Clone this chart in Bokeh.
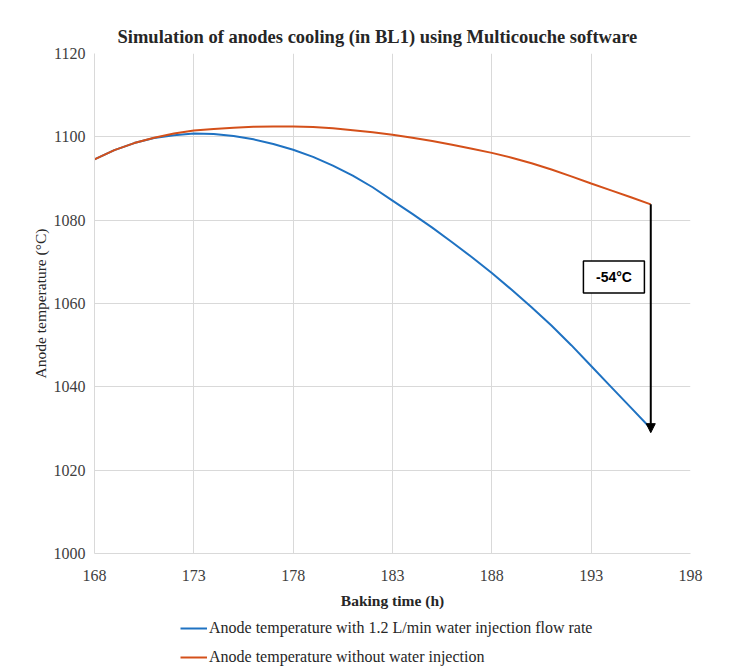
from bokeh.plotting import figure
from bokeh.layouts import column
from bokeh.models import (Legend, LegendItem, Arrow, NormalHead, Label,
                          BoxAnnotation, FixedTicker, Range1d)
from bokeh.embed import file_html
from bokeh.resources import INLINE

# ---------------- data ----------------
hours = [168, 169, 170, 171, 172, 173, 174, 175, 176, 177, 178, 179, 180, 181,
         182, 183, 184, 185, 186, 187, 188, 189, 190, 191, 192, 193, 194, 195, 196]
temp_with_water = [1094.6, 1096.8, 1098.5, 1099.7, 1100.4, 1100.8, 1100.7, 1100.2,
                   1099.4, 1098.3, 1096.9, 1095.2, 1093.1, 1090.7, 1087.9, 1084.7,
                   1081.5, 1078.2, 1074.7, 1071.1, 1067.3, 1063.3, 1059.1, 1054.7,
                   1050.0, 1045.0, 1040.0, 1035.0, 1030.0]
temp_without_water = [1094.6, 1096.8, 1098.5, 1099.8, 1100.8, 1101.5, 1101.9, 1102.2,
                      1102.4, 1102.5, 1102.5, 1102.35, 1102.05, 1101.6, 1101.1, 1100.5,
                      1099.8, 1099.0, 1098.1, 1097.15, 1096.15, 1095.0, 1093.65, 1092.15,
                      1090.5, 1088.8, 1087.15, 1085.5, 1083.8]
x_ticks = [168, 173, 178, 183, 188, 193, 198]
y_ticks = [1000, 1020, 1040, 1060, 1080, 1100, 1120]
label_with = "Anode temperature with 1.2 L/min water injection flow rate"
label_without = "Anode temperature without water injection"
title_text = "Simulation of anodes cooling (in BL1) using Multicouche software"
delta_text = "-54°C"

SERIF = "Liberation Serif"
BLUE = "#1F72C2"
ORANGE = "#D4501A"
GRID = "#D9D9D9"

p = figure(frame_width=596, frame_height=500,
           min_border_left=94, min_border_right=44,
           min_border_top=53, min_border_bottom=62,
           x_range=Range1d(168, 198), y_range=Range1d(1000, 1120),
           output_backend="svg", toolbar_location=None,
           background_fill_color="white", border_fill_color="white")
p.outline_line_color = None

# title
p.title.text = title_text
p.title.text_font = SERIF
p.title.text_font_style = "bold"
p.title.text_font_size = "18.5px"
p.title.text_color = "#262626"
p.title.align = "left"
p.title.offset = 23
p.title.standoff = 14

# axes
for ax in (p.xaxis[0], p.yaxis[0]):
    ax.axis_line_color = GRID
    ax.major_tick_line_color = None
    ax.minor_tick_line_color = None
    ax.major_label_text_font = SERIF
    ax.major_label_text_font_size = "16px"
    ax.major_label_text_color = "#404040"
    ax.axis_label_text_font = SERIF
    ax.axis_label_text_font_size = "15.5px"
    ax.axis_label_text_color = "#262626"

p.xaxis.ticker = FixedTicker(ticks=x_ticks)
p.yaxis.ticker = FixedTicker(ticks=y_ticks)
p.xaxis.axis_label = "Baking time (h)"
p.xaxis.axis_label_text_font_style = "bold"
p.xaxis.major_label_standoff = 10
p.xaxis.axis_label_standoff = 8
p.yaxis.axis_label = "Anode temperature (°C)"
p.yaxis.axis_label_text_font_style = "normal"
p.yaxis.major_label_standoff = 3
p.yaxis.axis_label_standoff = 2

p.xgrid.ticker = FixedTicker(ticks=x_ticks)
p.ygrid.ticker = FixedTicker(ticks=y_ticks)
p.grid.grid_line_color = GRID
p.grid.grid_line_width = 1

# lines
p.line(hours, temp_with_water, line_color=BLUE, line_width=2)
p.line(hours, temp_without_water, line_color=ORANGE, line_width=2)

# arrow showing the difference at the end
end_x = hours[-1]
p.add_layout(Arrow(x_start=end_x, y_start=temp_without_water[-1],
                   x_end=end_x, y_end=temp_with_water[-1] - 1.0,
                   line_color="black", line_width=2,
                   end=NormalHead(size=9, fill_color="black", line_color="black")))

# box with label
p.add_layout(BoxAnnotation(left=192.61, right=195.68, bottom=1062.5, top=1070.2,
                           fill_color="white", fill_alpha=1.0,
                           line_color="black", line_alpha=1.0, line_width=1.5))
p.add_layout(Label(x=194.15, y=1066.35, text=delta_text,
                   text_align="center", text_baseline="middle",
                   text_font="Liberation Sans", text_font_style="bold",
                   text_font_size="14px", text_color="black"))

# ---------------- legend strip below the chart ----------------
leg = figure(width=734, height=56, min_border=0,
             x_range=Range1d(0, 1), y_range=Range1d(0, 1),
             x_axis_type=None, y_axis_type=None,
             output_backend="svg", toolbar_location=None,
             background_fill_color="white", border_fill_color="white")
leg.outline_line_color = None
leg.grid.visible = False
# proxy renderers for the legend keys (their data lies outside the visible range)
g_with = leg.line(x=[5, 6], y=[5, 6], line_color=BLUE, line_width=2)
g_without = leg.line(x=[5, 6], y=[5, 6], line_color=ORANGE, line_width=2)

legend = Legend(items=[LegendItem(label=label_with, renderers=[g_with]),
                       LegendItem(label=label_without, renderers=[g_without])],
                location=(86, 5), orientation="vertical",
                padding=0, margin=0, spacing=11,
                glyph_width=27, glyph_height=16, label_height=16,
                label_standoff=2,
                label_text_font=SERIF, label_text_font_size="16px",
                label_text_color="#262626",
                border_line_color=None, background_fill_alpha=0)
leg.add_layout(legend)

layout = column(p, leg, spacing=0)
open("out.html", "w").write(file_html(layout, INLINE))
